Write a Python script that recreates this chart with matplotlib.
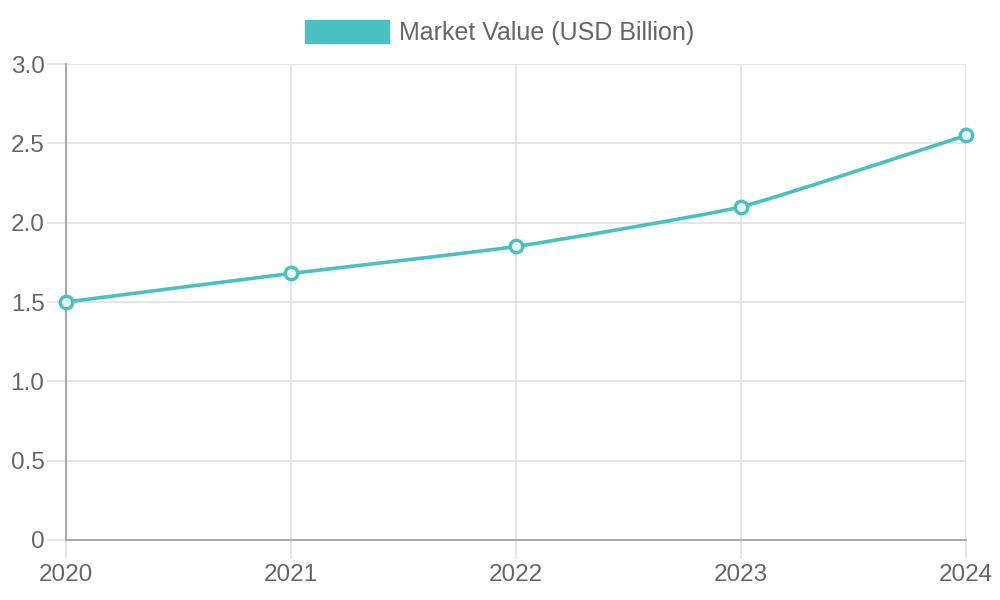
import numpy as np
import matplotlib
matplotlib.use("Agg")
import matplotlib.pyplot as plt
from matplotlib.path import Path
from matplotlib.patches import PathPatch, Patch

# dados
years = ["2020", "2021", "2022", "2023", "2024"]
market_value = [1.5, 1.68, 1.85, 2.1, 2.55]
series_label = "Market Value (USD Billion)"

teal = "#4bc0c0"
grid_c = "#e1e1e1"
text_c = "#666666"

plt.rcParams["font.family"] = ["Liberation Sans", "DejaVu Sans"]

fig = plt.figure(figsize=(10, 6), dpi=100)
ax = fig.add_axes([0.066, 0.1, 0.9, 0.7933])

x = np.arange(len(years), dtype=float)
y = np.array(market_value, dtype=float)

# curva suave estilo Chart.js (tension), calculada em escala de pixels
sx, sy = 900 / 4, 476 / 3
px, py = x * sx, y * sy
tension = 0.15
cps = []
for i in range(len(px)):
    prev = (px[max(i - 1, 0)], py[max(i - 1, 0)])
    cur = (px[i], py[i])
    nxt = (px[min(i + 1, len(px) - 1)], py[min(i + 1, len(px) - 1)])
    d01 = np.hypot(cur[0] - prev[0], cur[1] - prev[1])
    d12 = np.hypot(nxt[0] - cur[0], nxt[1] - cur[1])
    tot = d01 + d12 if d01 + d12 > 0 else 1
    fa = tension * d01 / tot
    fb = tension * d12 / tot
    c1 = (cur[0] - fa * (nxt[0] - prev[0]), cur[1] - fa * (nxt[1] - prev[1]))
    c2 = (cur[0] + fb * (nxt[0] - prev[0]), cur[1] + fb * (nxt[1] - prev[1]))
    cps.append((c1, c2))

verts = [(x[0], y[0])]
codes = [Path.MOVETO]
for i in range(1, len(x)):
    a = cps[i - 1][1]
    b = cps[i][0]
    verts += [(a[0] / sx, a[1] / sy), (b[0] / sx, b[1] / sy), (x[i], y[i])]
    codes += [Path.CURVE4] * 3
ax.add_patch(PathPatch(Path(verts, codes), fill=False, edgecolor=teal,
                       linewidth=2.6, zorder=3, capstyle="round", joinstyle="round"))
ax.plot(x, y, linestyle="none", marker="o", markersize=9,
        markerfacecolor="#e6f6f6", markeredgecolor=teal, markeredgewidth=2.4,
        zorder=4, clip_on=False)

ax.set_xlim(0, 4)
ax.set_ylim(0, 3)
ax.set_xticks(x)
ax.set_xticklabels(years)
ax.set_yticks(np.arange(0, 3.01, 0.5))
ax.set_yticklabels(["0", "0.5", "1.0", "1.5", "2.0", "2.5", "3.0"])

ax.grid(True, color=grid_c, linewidth=1.2)
ax.set_axisbelow(True)
for s in ["top", "right"]:
    ax.spines[s].set_visible(False)
for s in ["left", "bottom"]:
    ax.spines[s].set_color("#aaaaaa")
    ax.spines[s].set_linewidth(1.5)
ax.tick_params(axis="both", colors=grid_c, labelcolor=text_c, labelsize=17.5,
               length=14, width=1.2)
ax.tick_params(axis="y", pad=1.5)
ax.tick_params(axis="x", pad=3)

handle = Patch(facecolor=teal, edgecolor=teal)
leg = fig.legend([handle], [series_label], loc="upper center",
                 bbox_to_anchor=(0.5, 1.005), frameon=False, fontsize=18,
                 handlelength=3.36, handleheight=1.08, handletextpad=0.4)
for t in leg.get_texts():
    t.set_color(text_c)

fig.savefig("out.png", dpi=100)
